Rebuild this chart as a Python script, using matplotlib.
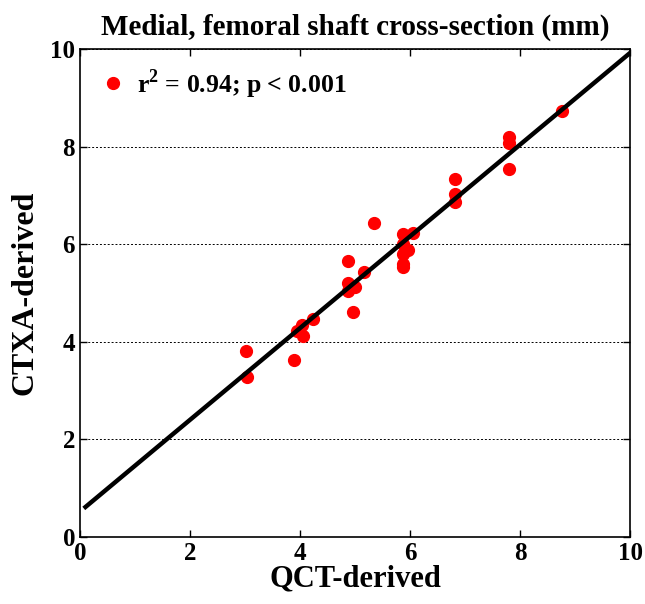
import numpy as np
import matplotlib
matplotlib.use('Agg')
import matplotlib.pyplot as plt

plt.rcParams['font.family'] = ['Liberation Serif', 'DejaVu Serif']
plt.rcParams['font.weight'] = 'bold'
plt.rcParams['mathtext.fontset'] = 'custom'
plt.rcParams['mathtext.rm'] = 'Liberation Serif:bold'
plt.rcParams['mathtext.bf'] = 'Liberation Serif:bold'

# QCT-derived vs CTXA-derived (mm)
qct = [3.02, 3.03, 3.89, 3.94, 4.03, 4.05, 4.24,
       4.87, 4.87, 4.87, 5.0, 4.97, 5.17, 5.35,
       5.87, 5.87, 5.88, 5.88, 5.88, 5.97, 6.05,
       6.82, 6.82, 6.82, 7.8, 7.8, 7.8, 8.76]
ctxa = [3.81, 3.28, 3.63, 4.22, 4.34, 4.12, 4.47,
        5.66, 5.2, 5.04, 5.12, 4.61, 5.43, 6.43,
        6.21, 6.0, 5.8, 5.6, 5.53, 5.88, 6.23,
        7.34, 7.03, 6.86, 8.2, 8.07, 7.54, 8.73]

# regression line
slope = 0.94
intercept = 0.52
fit_x = np.array([0.1, 10.0])
fit_y = slope*fit_x + intercept

fig = plt.figure(figsize=(6.45, 6.04), dpi=100)
ax = fig.add_axes([0.124, 0.111, 0.853, 0.808])

ax.plot(fit_x, fit_y, color='black', linewidth=3.2, zorder=3)
ax.plot(qct, ctxa, 'o', color='red', markersize=8.5, zorder=2,
        label=r'r$^{\mathbf{2}}$ = 0.94; p < 0.001')

ax.set_xlim(0, 10)
ax.set_ylim(0, 10)
ax.set_xticks(np.arange(0, 11, 2))
ax.set_yticks(np.arange(0, 11, 2))
ax.yaxis.grid(True, linestyle=(0, (2, 2)), color='black', linewidth=0.7)
ax.tick_params(direction='in', top=True, right=True, labelsize=18, length=5, width=1)
for s in ax.spines.values():
    s.set_linewidth(1.2)

ax.set_title('Medial, femoral shaft cross-section (mm)', fontsize=21, fontweight='bold', pad=10)
ax.set_xlabel('QCT-derived', fontsize=22, fontweight='bold', labelpad=0)
ax.set_ylabel('CTXA-derived', fontsize=23, fontweight='bold', labelpad=8)

ax.legend(loc='upper left', frameon=False, fontsize=18.5, handletextpad=0.3,
          borderaxespad=0.3, handlelength=1.2)

plt.savefig('out.png', dpi=100)
